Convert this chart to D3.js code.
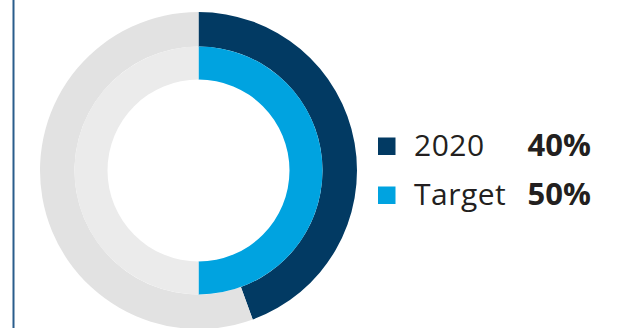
<!DOCTYPE html>
<html><head><meta charset="utf-8">
<script src="https://cdn.jsdelivr.net/npm/d3@7"></script>
<style>html,body{margin:0;padding:0;background:#fff;}svg{display:block;}</style>
</head><body>
<svg id="c" width="620" height="328"></svg>
<script>
// Data
const seriesNames = ["2020", "Target"];
const seriesValues = [40, 50];          // shown in legend
const remainderValues = [50, 50];       // grey remainder of each ring (as drawn)
const valueLabels = ["40%", "50%"];
const seriesColors = ["#023a63", "#00a3e0"];
const trackColors = ["#e2e2e2", "#ebebeb"];

const svg = d3.select("#c");
const W = 620, H = 328;
const cx = 198.5, cy = 170.5;
const rings = [{inner: 124, outer: 158.5}, {inner: 91, outer: 124}];

// left border
svg.append("line").attr("x1", 13.5).attr("x2", 13.5).attr("y1", 0).attr("y2", H)
  .attr("stroke", "#2a5d8c").attr("stroke-width", 2);

const pie = d3.pie().sort(null).value(d => d);
const g = svg.append("g").attr("transform", `translate(${cx},${cy})`);

seriesValues.forEach((v, i) => {
  const arcs = pie([v, remainderValues[i]]);
  const arc = d3.arc().innerRadius(rings[i].inner).outerRadius(rings[i].outer);
  g.selectAll(null).data(arcs).enter().append("path")
    .attr("d", arc)
    .attr("fill", (d, j) => j === 0 ? seriesColors[i] : trackColors[i]);
});

// legend
const y = d3.scaleBand().domain(seriesNames).range([134, 232]).paddingInner(0);
const leg = svg.append("g");
seriesNames.forEach((n, i) => {
  const yy = y(n);
  leg.append("rect").attr("x", 378).attr("y", yy + 3.5).attr("width", 17.5).attr("height", 17.5)
    .attr("fill", seriesColors[i]);
  leg.append("text").attr("x", 414).attr("y", yy + 22)
    .attr("font-family", "Open Sans").attr("font-size", 30).attr("letter-spacing", 0.5).attr("fill", "#231f20")
    .text(n);
  leg.append("text").attr("x", 591).attr("y", yy + 22).attr("text-anchor", "end")
    .attr("font-family", "Open Sans").attr("font-weight", 700).attr("font-size", 31).attr("fill", "#231f20")
    .text(valueLabels[i]);
});
</script>
</body></html>
